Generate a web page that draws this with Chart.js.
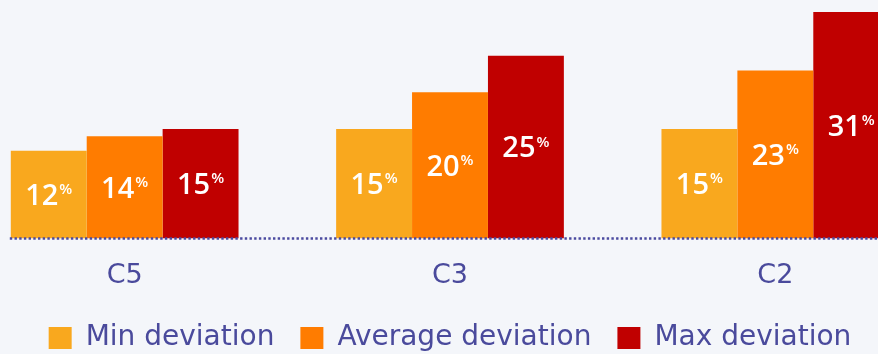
<!DOCTYPE html>
<html>
<head>
<meta charset="utf-8">
<script src="https://cdn.jsdelivr.net/npm/chart.js@4/dist/chart.umd.min.js"></script>
<style>
  html, body { margin: 0; padding: 0; background: #F4F6FA; overflow: hidden; width: 878px; height: 354px; }
  #wrap { position: absolute; left: -38px; top: 0; width: 976px; height: 362px; }
</style>
</head>
<body>
<div id="wrap"><canvas id="c"></canvas></div>
<script>
const categories = ['C5', 'C3', 'C2'];
const seriesNames = ['Min deviation', 'Average deviation', 'Max deviation'];
const minDeviation = [12, 15, 15];
const avgDeviation = [14, 20, 23];
const maxDeviation = [15, 25, 31];
const seriesColors = ['#F9A81E', '#FF7C00', '#C00000'];

const textColor = '#4A4A9C';

const valueLabels = {
  id: 'valueLabels',
  afterDatasetsDraw(chart) {
    const ctx = chart.ctx;
    ctx.save();
    chart.data.datasets.forEach((ds, di) => {
      const meta = chart.getDatasetMeta(di);
      meta.data.forEach((bar, i) => {
        const v = String(ds.data[i]);
        const cy = (bar.y + bar.base) / 2 + 2;
        ctx.font = '600 29px "Open Sans"';
        const w1 = ctx.measureText(v).width;
        ctx.font = '600 15px "Open Sans"';
        const w2 = ctx.measureText('%').width;
        const x0 = bar.x - (w1 + w2 + 1) / 2;
        ctx.fillStyle = '#FFFFFF';
        ctx.textBaseline = 'middle';
        ctx.textAlign = 'left';
        ctx.font = '600 29px "Open Sans"';
        ctx.fillText(v, x0, cy);
        ctx.textBaseline = 'top';
        ctx.font = '600 15px "Open Sans"';
        ctx.fillText('%', x0 + w1 + 1, cy - 14);
      });
    });
    ctx.restore();
  }
};

const dottedBase = {
  id: 'dottedBase',
  afterDatasetsDraw(chart) {
    const ctx = chart.ctx;
    const first = chart.getDatasetMeta(0).data[0];
    const y = chart.scales.y.getPixelForValue(0);
    ctx.save();
    ctx.strokeStyle = '#4B4BA0';
    ctx.lineWidth = 2.5;
    ctx.setLineDash([2.4, 2.3]);
    ctx.beginPath();
    ctx.moveTo(first.x - first.width / 2 - 1, y);
    ctx.lineTo(chart.chartArea.right, y);
    ctx.stroke();
    ctx.restore();
  }
};

new Chart(document.getElementById('c'), {
  type: 'bar',
  data: {
    labels: categories,
    datasets: [
      { label: seriesNames[0], data: minDeviation, backgroundColor: seriesColors[0] },
      { label: seriesNames[1], data: avgDeviation, backgroundColor: seriesColors[1] },
      { label: seriesNames[2], data: maxDeviation, backgroundColor: seriesColors[2] }
    ]
  },
  options: {
    responsive: true,
    maintainAspectRatio: false,
    animation: false,
    layout: { padding: 0 },
    datasets: { bar: { categoryPercentage: 0.7, barPercentage: 1.0, borderWidth: 0 } },
    scales: {
      x: {
        grid: { display: false, drawTicks: false },
        border: { display: false },
        ticks: { color: textColor, font: { family: 'DejaVu Sans', size: 27, weight: 400 }, padding: 21.5 },
        afterFit(scale) { scale.height = 59.5; }
      },
      y: { display: false, min: 0, max: 32.64 }
    },
    plugins: {
      legend: {
        position: 'bottom',
        labels: {
          color: textColor,
          font: { family: 'DejaVu Sans', size: 28, weight: 400 },
          boxWidth: 23, boxHeight: 22,
          padding: 26
        }
      },
      tooltip: { enabled: false }
    }
  },
  plugins: [dottedBase, valueLabels]
});
</script>
</body>
</html>
